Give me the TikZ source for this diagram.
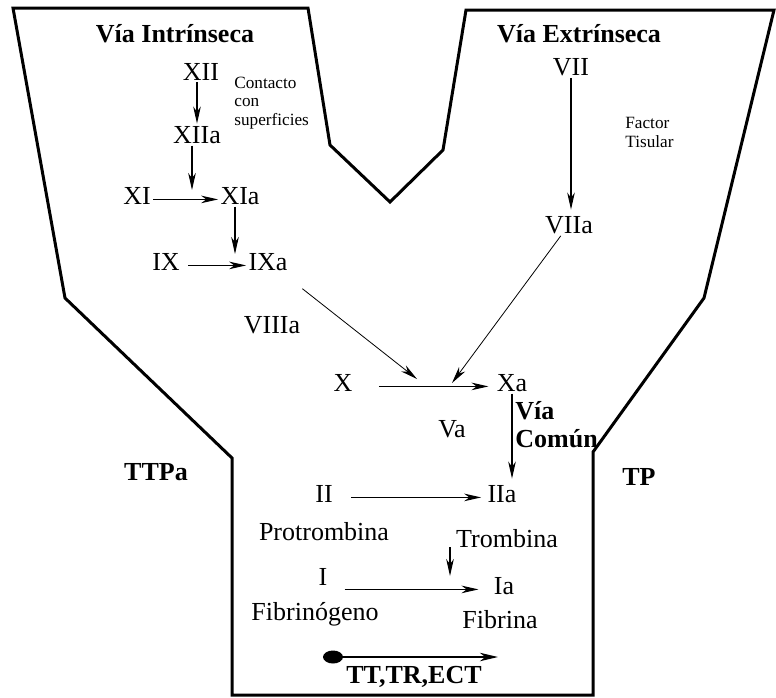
\documentclass[tikz,border=0pt]{standalone}
\usepackage{fontspec}
\setmainfont{Liberation Serif}
\usetikzlibrary{arrows.meta,shapes.geometric}

\begin{document}
\begin{tikzpicture}[x=0.5pt, y=-0.5pt,
	every node/.style={font=\fontsize{13}{14}\selectfont, inner sep=1pt, anchor=base},
	via/.style={font=\bfseries\fontsize{13}{14}\selectfont, align=left},
	nota/.style={font=\fontsize{8.6}{9.25}\selectfont, align=left, anchor=base west},
	flecha/.style={-{Stealth[length=8.5pt,width=3.8pt,inset=2.6pt]}, line width=0.55pt},
	diag/.style={flecha, line width=0.4pt},
	gruesa/.style={-{Stealth[length=9pt,width=4.2pt,inset=2.6pt]}, line width=1pt},
	punto/.style={ellipse, fill=black, inner sep=0pt, minimum width=10pt, minimum height=6.5pt, anchor=center},
	borde/.style={line width=1.5pt, line join=miter}]
\useasboundingbox (0,0) rectangle (776,697);
\draw[borde] (13,8) -- (308,8) -- (330,145) -- (390,202) -- (443,150) -- (466,10) -- (774,10)
	-- (704,298) -- (593,452) -- (593,695) -- (232,695) -- (232,458) -- (65,298) -- cycle;
\foreach \nombre/\x/\y/\texto in {XII/201/80/XII, XIIa/197/143/XIIa, XI/137/204/XI, XIa/240/204/XIa,
	IX/166/270/IX, IXa/268/270/IXa, VII/571/75/VII, VIIa/569/233/VIIa, VIIIa/272/333/VIIIa,
	X/343/391/X, Xa/512/391/Xa, Va/452/437/Va, II/324/502/II, IIa/502/502/IIa,
	Pro/324/540/Protrombina, Trom/507/547/Trombina, I/323/585/I, Ia/504/594/Ia,
	Fibno/315/620/Fibrinógeno, Fib/500/628/Fibrina}
	\node (\nombre) at (\x,\y) {\texto};
\foreach \nombre/\x/\y/\texto in {viaI/175/42/Vía Intrínseca, viaE/579/42/Vía Extrínseca,
	TTPa/156/480/TTPa, TP/639/485/TP, TT/414/683/{TT,TR,ECT}}
	\node[via] (\nombre) at (\x,\y) {\texto};
\node[via, anchor=base west] (comun) at (513,447) {Vía\\Común};
\node[nota] (contacto) at (232,125) {Contacto\\con\\superficies};
\node[nota] (tisular) at (623,147) {Factor\\Tisular};
\coordinate (c1) at (192,190);
\coordinate (c2) at (235,254);
\coordinate (c3) at (417,379);
\coordinate (c4) at (452,383);
\coordinate (c5) at (450,576);
\coordinate (fin) at (498,657);
\draw[flecha] (XII.south -| XIIa) -- (XIIa.north);
\draw[flecha] (XIIa.south -| c1) -- (c1);
\draw[flecha] (XI.mid east) -- (XIa.mid west);
\draw[flecha] (XIa.south -| c2) -- (c2);
\draw[flecha, shorten <=3pt] (IX.mid east) -- (IXa.mid west);
\draw[flecha, shorten >=2pt] (VII.south) -- (VII.south |- VIIa.north);
\draw[diag, shorten <=13pt] (IXa) -- (c3);
\draw[diag] (VIIa) -- (c4);
\draw[flecha, shorten <=12pt, shorten >=3pt] (X.mid east) -- (Xa.mid west);
\draw[flecha, shorten >=2pt] (Xa.south) -- (Xa.south |- IIa.north);
\draw[flecha, shorten <=8pt, shorten >=2pt] (II.mid east) -- (IIa.mid west);
\draw[flecha] (c5 |- Trom.base) -- (c5);
\draw[flecha, shorten <=7.5pt, shorten >=6.5pt] (I.mid east |- Ia.mid) -- (Ia.mid west);
\node[punto] (ini) at (333,657) {};
\draw[gruesa] (ini.center) -- (fin);
\end{tikzpicture}
\end{document}
